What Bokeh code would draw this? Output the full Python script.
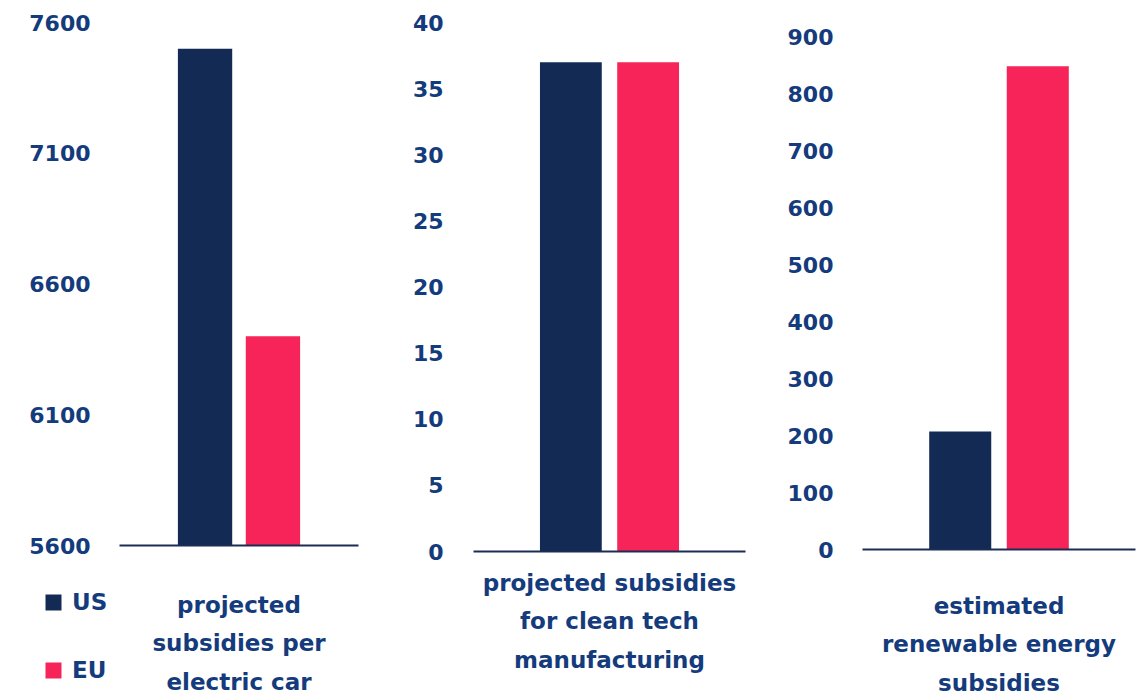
from bokeh.plotting import figure
from bokeh.models import Range1d, FactorRange, FixedTicker, Legend, LegendItem, ColumnDataSource, Label
from bokeh.layouts import row, column
from bokeh.embed import file_html
from bokeh.resources import INLINE

# ---- data ----
series = ["US", "EU"]
series_colors = ["#132B54", "#F62459"]
categories = [
    "projected\nsubsidies per\nelectric car",
    "projected subsidies\nfor clean tech\nmanufacturing",
    "estimated\nrenewable energy\nsubsidies",
]
us_values = [7500, 37, 207]
eu_values = [6400, 37, 848]
y_starts = [5600, 0, 0]
y_ends = [7600, 40, 900]
y_steps = [500, 5, 100]

# ---- style / layout ----
TEXT = "#143B7C"
FONT = "DejaVu Sans"
TOTAL_H = 698
widths = [385, 385, 372]
borders_left = [119, 88, 92]
borders_right = [27, 25, 7]
frame_tops = [22, 22, 36]
frame_bottoms = [545, 551, 549]
ylabel_standoff = [29, 30, 29]
first_line_center = [605, 583, 606]
FIRST_LINE_OFFSET = 14


def clean(fig):
    fig.xgrid.visible = False
    fig.ygrid.visible = False
    fig.outline_line_color = None
    fig.background_fill_color = "white"
    fig.border_fill_color = "white"


cols = []
for i in range(3):
    top_h = frame_bottoms[i] + 12
    p = figure(
        x_range=FactorRange(*series, range_padding=0.76),
        y_range=Range1d(y_starts[i], y_ends[i]),
        width=widths[i], height=top_h, title=None,
        output_backend="svg", toolbar_location=None,
        min_border_left=borders_left[i], min_border_right=borders_right[i],
        min_border_top=frame_tops[i], min_border_bottom=12,
    )
    src = ColumnDataSource(dict(
        x=series,
        top=[us_values[i], eu_values[i]],
        bottom=[y_starts[i], y_starts[i]],
        color=series_colors,
    ))
    p.vbar(x="x", top="top", bottom="bottom", width=0.8, color="color",
           line_color=None, source=src)
    clean(p)

    yax = p.yaxis[0]
    yax.ticker = FixedTicker(ticks=list(range(y_starts[i], y_ends[i] + 1, y_steps[i])))
    yax.axis_line_color = None
    yax.major_tick_line_color = None
    yax.minor_tick_line_color = None
    yax.major_tick_out = 0
    yax.major_tick_in = 0
    yax.minor_tick_out = 0
    yax.major_label_standoff = ylabel_standoff[i]
    yax.major_label_text_font = FONT
    yax.major_label_text_font_style = "bold"
    yax.major_label_text_font_size = "22px"
    yax.major_label_text_color = TEXT

    xax = p.xaxis[0]
    xax.ticker = FixedTicker(ticks=[])
    xax.axis_line_color = "#1B2D55"
    xax.axis_line_width = 2
    xax.major_tick_line_color = None
    xax.minor_tick_line_color = None
    xax.major_tick_out = 0
    xax.major_tick_in = 0
    xax.major_label_standoff = 0

    # lower strip with category text (and legend in the first panel)
    bot_h = TOTAL_H - top_h
    b = figure(width=widths[i], height=bot_h, title=None,
               x_range=FactorRange(*series), y_range=Range1d(-2, -1),
               x_axis_location=None, y_axis_location=None,
               output_backend="svg", toolbar_location=None,
               min_border_left=0, min_border_right=0, min_border_top=0, min_border_bottom=0)
    clean(b)

    frame_w = widths[i] - borders_left[i] - borders_right[i]
    cx = borders_left[i] + frame_w / 2
    text_top = first_line_center[i] - FIRST_LINE_OFFSET - top_h
    b.add_layout(Label(x=cx, y=bot_h - text_top, x_units="screen", y_units="screen",
                       text=categories[i], text_align="center", text_baseline="top",
                       text_font=FONT, text_font_style="bold", text_font_size="23px",
                       text_color=TEXT, text_line_height=1.49))

    if i == 0:
        # legend swatches take colours from the same series source; the bars themselves
        # have zero width here so nothing is drawn in this strip
        rl = b.vbar(x="x", top="top", bottom="bottom", width=0, color="color",
                    line_color=None, source=src)
        items = [LegendItem(label=s, renderers=[rl], index=k) for k, s in enumerate(series)]
        item_h = 26
        leg_h = 2 * item_h + 42
        leg_top = 602 - item_h / 2 - top_h
        leg = Legend(items=items, location=(43, bot_h - leg_top - leg_h),
                     orientation="vertical",
                     glyph_width=20, glyph_height=20, label_height=20,
                     spacing=42, padding=0, margin=0, label_standoff=9,
                     label_text_font=FONT, label_text_font_style="bold",
                     label_text_font_size="23px", label_text_color=TEXT,
                     border_line_color=None, background_fill_alpha=0)
        b.add_layout(leg, "center")
    cols.append(column(p, row(b, spacing=0), spacing=0))

layout = row(*cols, spacing=0)
open("out.html", "w").write(file_html(layout, INLINE))
